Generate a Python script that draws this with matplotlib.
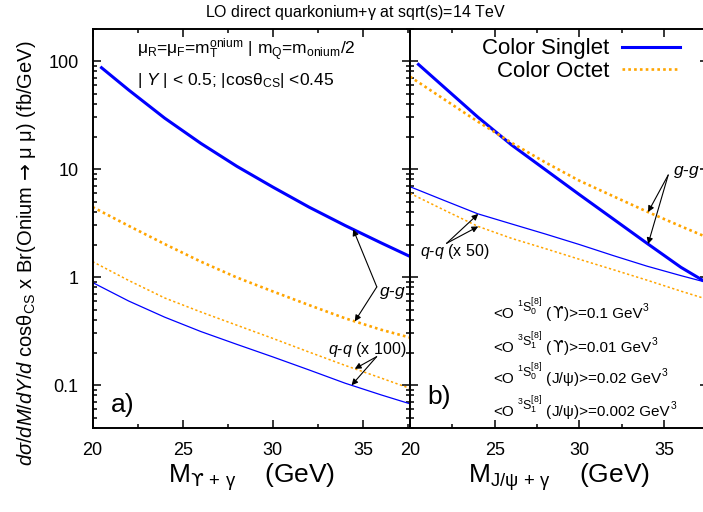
import numpy as np
import matplotlib
matplotlib.use("Agg")
import matplotlib.pyplot as plt
from matplotlib.ticker import MultipleLocator, LogLocator, FixedLocator, NullFormatter, FixedFormatter

plt.rcParams["font.family"] = ["Liberation Sans", "DejaVu Sans"]
plt.rcParams["mathtext.fontset"] = "custom"
plt.rcParams["mathtext.rm"] = "Liberation Sans"
plt.rcParams["mathtext.it"] = "Liberation Sans:italic"
plt.rcParams["mathtext.bf"] = "Liberation Sans:bold"
plt.rcParams["mathtext.sf"] = "DejaVu Sans"
plt.rcParams["mathtext.default"] = "regular"

# Upsilon + gamma (panel a)
m_ups = [20, 22, 24, 26, 28, 30, 32, 34, 36, 37.6]
m_ups_cs_gg = [20.5, 22, 24, 26, 28, 30, 32, 34, 36, 37.6]
ups_cs_gg = [86.7, 54, 29.6, 17.3, 10.6, 6.8, 4.44, 3.0, 2.07, 1.55]
ups_co_gg = [4.45, 2.98, 2.02, 1.39, 0.99, 0.735, 0.55, 0.415, 0.325, 0.275]
ups_cs_qq = [0.89, 0.60, 0.425, 0.313, 0.238, 0.182, 0.138, 0.104, 0.081, 0.067]
ups_co_qq = [1.39, 0.93, 0.64, 0.475, 0.358, 0.270, 0.202, 0.152, 0.116, 0.093]

# J/psi + gamma (panel b)
m_psi = [20, 22, 24, 26, 28, 30, 32, 34, 36, 37.3]
m_psi_cs_gg = [20.5, 22, 24, 26, 28, 30, 32, 34, 36, 37.3]
psi_cs_gg = [93, 57.5, 30.3, 16.7, 9.84, 5.8, 3.45, 2.05, 1.23, 0.93]
psi_co_gg = [71.6, 44.4, 27.5, 17.5, 11.5, 7.8, 5.6, 4.03, 2.95, 2.42]
psi_cs_qq = [6.86, 5.13, 3.85, 3.10, 2.50, 2.0, 1.58, 1.26, 1.03, 0.91]
psi_co_qq = [5.96, 4.18, 2.95, 2.28, 1.83, 1.46, 1.17, 0.935, 0.74, 0.64]

y_ticks = [0.1, 1, 10, 100]
y_tick_labels = ["0.1", "1", "10", "100"]
x_ticks = [20, 25, 30, 35]

# long-distance matrix elements: state, meson, value
ldme_states = [("1", "0"), ("3", "1"), ("1", "0"), ("3", "1")]
ldme_mesons = ["$\\mathsf{\u03d2}$", "$\\mathsf{\u03d2}$", "J/\u03c8", "J/\u03c8"]
ldme_values = ["0.1", "0.01", "0.02", "0.002"]

blue = "#0000ff"
orange = "#ffa500"

def on_curve(xs, ys, x):
    return 10 ** np.interp(x, xs, np.log10(ys))

fig = plt.figure(figsize = (7.03, 5.12), dpi = 100)
ax_a = fig.add_axes([92.5 / 703, 1 - 428 / 512, 317.5 / 703, 399.5 / 512])
ax_b = fig.add_axes([410 / 703, 1 - 428 / 512, 298 / 703, 399.5 / 512])

for ax in (ax_a, ax_b):
    ax.set_yscale("log")
    ax.set_ylim(0.04, 200)
    ax.set_xlim(20, 37.6)
    ax.xaxis.set_major_locator(FixedLocator(x_ticks))
    ax.xaxis.set_minor_locator(MultipleLocator(2.5))
    ax.yaxis.set_major_locator(FixedLocator(y_ticks))
    ax.yaxis.set_minor_locator(LogLocator(base = 10, subs = np.arange(2, 10)))
    ax.yaxis.set_minor_formatter(NullFormatter())
    ax.tick_params(which = "both", direction = "in", top = True, right = True, width = 1.1)
    ax.tick_params(which = "major", length = 6, labelsize = 13)
    ax.tick_params(axis = "x", which = "major", pad = 10)
    ax.tick_params(axis = "y", which = "major", pad = 10)
    ax.tick_params(which = "minor", length = 3)
    for sp in ax.spines.values():
        sp.set_linewidth(1.4)

ax_a.yaxis.set_major_formatter(FixedFormatter(y_tick_labels))
ax_b.yaxis.set_major_formatter(NullFormatter())

# panel a
ax_a.plot(m_ups_cs_gg, ups_cs_gg, color = blue, lw = 2.2)
ax_a.plot(m_ups, ups_co_gg, color = orange, lw = 1.9, dashes = (1, 1.2))
ax_a.plot(m_ups, ups_cs_qq, color = blue, lw = 0.9)
ax_a.plot(m_ups, ups_co_qq, color = orange, lw = 1.1, dashes = (1.5, 1.6))

# panel b
ax_b.plot(m_psi_cs_gg, psi_cs_gg, color = blue, lw = 2.2, label = "Color Singlet")
ax_b.plot(m_psi, psi_co_gg, color = orange, lw = 1.9, dashes = (1, 1.2), label = "Color Octet")
ax_b.plot(m_psi, psi_cs_qq, color = blue, lw = 0.9)
ax_b.plot(m_psi, psi_co_qq, color = orange, lw = 1.1, dashes = (1.5, 1.6))

arrow = dict(arrowstyle = "-|>", color = "black", lw = 0.8, mutation_scale = 9, shrinkA = 0, shrinkB = 0)

# g-g / q-q annotations, panel a
ax_a.text(35.9, 0.71, r"$\mathit{g}$-$\mathit{g}$", fontsize = 12.5, ha = "left", va = "center")
ax_a.annotate("", xy = (34.45, on_curve(m_ups_cs_gg, ups_cs_gg, 34.45)), xytext = (35.76, 0.81), arrowprops = arrow)
ax_a.annotate("", xy = (34.54, on_curve(m_ups, ups_co_gg, 34.54)), xytext = (35.76, 0.81), arrowprops = arrow)
ax_a.text(33.05, 0.215, r"$\mathit{q}$-$\mathit{q}$ (x 100)", fontsize = 11.5, ha = "left", va = "center")
ax_a.annotate("", xy = (34.54, on_curve(m_ups, ups_co_qq, 34.54)), xytext = (35.75, 0.183), arrowprops = arrow)
ax_a.annotate("", xy = (34.36, on_curve(m_ups, ups_cs_qq, 34.36)), xytext = (35.75, 0.183), arrowprops = arrow)

# panel b
ax_b.text(35.53, 9.4, r"$\mathit{g}$-$\mathit{g}$", fontsize = 12.5, ha = "left", va = "center")
ax_b.annotate("", xy = (34.06, on_curve(m_psi, psi_co_gg, 34.06)), xytext = (35.25, 8.8), arrowprops = arrow)
ax_b.annotate("", xy = (34.06, on_curve(m_psi_cs_gg, psi_cs_gg, 34.06)), xytext = (35.25, 8.8), arrowprops = arrow)
ax_b.text(20.6, 1.74, r"$\mathit{q}$-$\mathit{q}$ (x 50)", fontsize = 11.5, ha = "left", va = "center")
ax_b.annotate("", xy = (24.03, on_curve(m_psi, psi_cs_qq, 24.03)), xytext = (22.16, 2.05), arrowprops = arrow)
ax_b.annotate("", xy = (24.03, on_curve(m_psi, psi_co_qq, 24.03)), xytext = (22.16, 2.05), arrowprops = arrow)

# LDME labels, built piece by piece so the raised state label keeps a readable size
renderer = fig.canvas.get_renderer()

def chain(ax, x, y, pieces):
    xoff = 0
    for s, fs, dy, gap in pieces:
        t = ax.annotate(s, xy = (x, y), xytext = (xoff + gap, dy), textcoords = "offset points", fontsize = fs, ha = "left", va = "baseline")
        xoff += gap + t.get_window_extent(renderer).width * 72 / fig.dpi

for (spin, sub), meson, val, yv in zip(ldme_states, ldme_mesons, ldme_values, [0.417, 0.202, 0.105, 0.0517]):
    chain(ax_b, 24.9, yv, [
        ("<O", 11, 0, 0),
        (r"$^{%s}S_{%s}^{[8]}$" % (spin, sub), 9, 4.5, 2.5),
        ("(", 11, 0, 3),
        (meson, 11, 0, 0),
        (")>=%s GeV" % val, 11, 0, 0),
        ("3", 7.5, 5, 0.2),
    ])

ax_a.text(21.0, 0.065, "a)", fontsize = 19, ha = "left", va = "center")
ax_b.text(21.0, 0.077, "b)", fontsize = 19, ha = "left", va = "center")

ax_a.text(0.14, 0.946, r"$\mu_{R}$=$\mu_{F}$=m$_{T}^{onium}$ | m$_{Q}$=m$_{onium}$/2", transform = ax_a.transAxes, fontsize = 12.5, ha = "left", va = "center")
ax_a.text(0.14, 0.871, r"| $\mathit{Y}$ | < 0.5; |cos$\theta_{CS}$| <0.45", transform = ax_a.transAxes, fontsize = 12.5, ha = "left", va = "center")

ax_b.legend(loc = "upper right", bbox_to_anchor = (0.906, 0.975), markerfirst = False, frameon = False, fontsize = 16, handlelength = 2.6, handletextpad = 0.6, labelspacing = 0.05, borderpad = 0, borderaxespad = 0)

ax_a.set_xlabel("M$_{\\mathsf{\u03d2}\\,+\\,\\gamma}$    (GeV)", fontsize = 19, labelpad = 2)
ax_b.set_xlabel(r"M$_{J/\psi\,+\,\gamma}$    (GeV)", fontsize = 19, labelpad = 2)

fig.text(27 / 703, 1 - 253 / 512, "$\\mathit{d\\sigma/dM/dY/d}$ cos$\\theta_{CS}$ x Br(Onium $\\mathsf{\u2192}$ $\\mu$ $\\mu$) (fb/GeV)", rotation = 90, fontsize = 14.5, ha = "center", va = "center")
fig.text(0.505, 1 - 12 / 512, r"LO direct quarkonium+$\gamma$ at sqrt(s)=14 TeV", fontsize = 11.5, ha = "center", va = "center")

fig.savefig("out.png", dpi = 100)
